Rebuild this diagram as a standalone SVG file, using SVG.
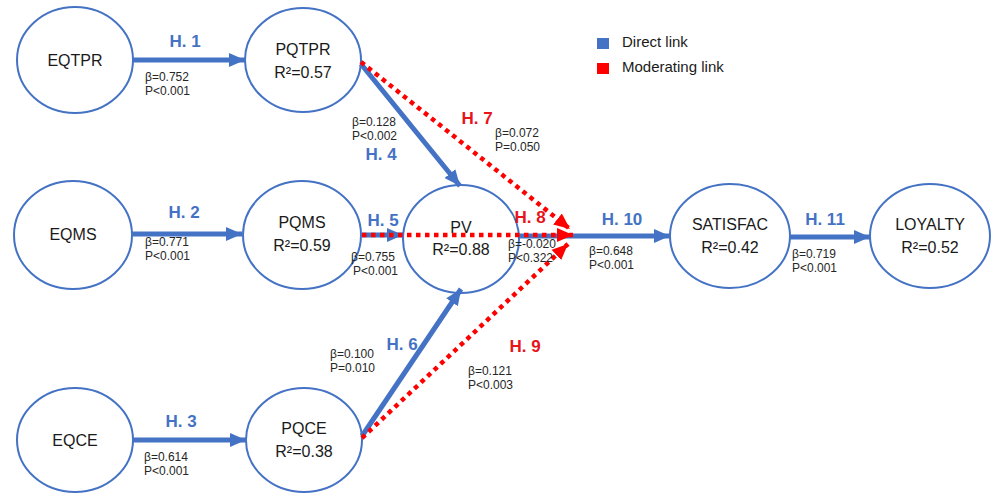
<svg xmlns="http://www.w3.org/2000/svg" width="997" height="493" viewBox="0 0 997 493">
<style>
.node{fill:#fff;stroke:#4472C4;stroke-width:2}
.nt{font-family:"Liberation Sans",Arial,sans-serif;font-size:16px;fill:#1a1a1a;text-anchor:middle}
.st{font-family:"Liberation Sans",Arial,sans-serif;font-size:12px;fill:#262626}
.hb{font-family:"Liberation Sans",Arial,sans-serif;font-size:17px;font-weight:bold;fill:#4472C4;text-anchor:middle}
.hr{font-family:"Liberation Sans",Arial,sans-serif;font-size:17px;font-weight:bold;fill:#E8141B;text-anchor:middle}
.lg{font-family:"Liberation Sans",Arial,sans-serif;font-size:15px;fill:#1a1a1a}
.bl{stroke:#4472C4;stroke-width:5;fill:none;marker-end:url(#ab)}
.rd{stroke:#FF0000;stroke-width:4.5;fill:none;stroke-dasharray:4.5 4.5;marker-end:url(#ar)}
</style>
<defs>
<marker id="ab" markerUnits="userSpaceOnUse" markerWidth="18" markerHeight="16" refX="16" refY="8" orient="auto">
<path d="M0,1 L16,8 L0,15 Z" fill="#4472C4"/>
</marker>
<marker id="ar" markerUnits="userSpaceOnUse" markerWidth="18" markerHeight="16" refX="16" refY="8" orient="auto">
<path d="M0,1 L16,8 L0,15 Z" fill="#FF0000"/>
</marker>
</defs>
<rect width="997" height="493" fill="#fff"/>

<g id="legend">
<rect x="597" y="38" width="12" height="11" fill="#4472C4"/>
<text class="lg" x="622" y="47">Direct link</text>
<rect x="597" y="63" width="12" height="11" fill="#FF0000"/>
<text class="lg" x="622" y="72">Moderating link</text>
</g>

<g id="EQTPR"><ellipse class="node" cx="75" cy="60" rx="58" ry="53"/><text class="nt" x="75" y="66">EQTPR</text></g>
<g id="PQTPR"><ellipse class="node" cx="303" cy="60" rx="58" ry="52"/><text class="nt" x="303" y="55">PQTPR</text><text class="nt" x="303" y="78">R²=0.57</text></g>
<g id="EQMS"><ellipse class="node" cx="73" cy="235" rx="59" ry="54"/><text class="nt" x="73" y="240">EQMS</text></g>
<g id="PQMS"><ellipse class="node" cx="302" cy="235" rx="59" ry="54"/><text class="nt" x="302" y="228">PQMS</text><text class="nt" x="302" y="251">R²=0.59</text></g>
<g id="PV"><ellipse class="node" cx="461" cy="239" rx="58" ry="54"/><text class="nt" x="461" y="233">PV</text><text class="nt" x="461" y="255">R²=0.88</text></g>
<g id="EQCE"><ellipse class="node" cx="75" cy="440" rx="58" ry="52"/><text class="nt" x="75" y="446">EQCE</text></g>
<g id="PQCE"><ellipse class="node" cx="304" cy="440" rx="58" ry="52"/><text class="nt" x="304" y="434">PQCE</text><text class="nt" x="304" y="457">R²=0.38</text></g>
<g id="SATISFAC"><ellipse class="node" cx="730" cy="236" rx="60" ry="52"/><text class="nt" x="730" y="230">SATISFAC</text><text class="nt" x="730" y="253">R²=0.42</text></g>
<g id="LOYALTY"><ellipse class="node" cx="930" cy="236" rx="60" ry="52"/><text class="nt" x="930" y="230">LOYALTY</text><text class="nt" x="930" y="253">R²=0.52</text></g>

<g id="connectors">
<line class="bl" x1="133" y1="60" x2="245" y2="60"/>
<line class="bl" x1="132" y1="234" x2="242" y2="234"/>
<line class="bl" x1="133" y1="440" x2="246" y2="440"/>
<line class="bl" x1="361" y1="64" x2="460" y2="186"/>
<line class="bl" x1="362" y1="235" x2="403" y2="235"/>
<line class="bl" x1="362" y1="436" x2="461" y2="289"/>
<line class="bl" x1="519" y1="236" x2="670" y2="236"/>
<line class="bl" x1="790" y1="237" x2="870" y2="237"/>
<line class="rd" x1="361" y1="62" x2="570" y2="229"/>
<line class="rd" x1="362" y1="235" x2="573" y2="235"/>
<line class="rd" x1="362" y1="438" x2="568" y2="244"/>
</g>

<g id="labels">
<text class="hb" x="185" y="47">H. 1</text>
<text class="st" x="145" y="81">β=0.752</text>
<text class="st" x="145" y="95">P&lt;0.001</text>
<text class="hb" x="184" y="218">H. 2</text>
<text class="st" x="145" y="246">β=0.771</text>
<text class="st" x="145" y="260">P&lt;0.001</text>
<text class="hb" x="181" y="427">H. 3</text>
<text class="st" x="144" y="461">β=0.614</text>
<text class="st" x="144" y="475">P&lt;0.001</text>
<text class="st" x="352" y="126">β=0.128</text>
<text class="st" x="352" y="140">P&lt;0.002</text>
<text class="hb" x="381" y="160">H. 4</text>
<text class="hb" x="383" y="226">H. 5</text>
<text class="st" x="351" y="261">β=0.755</text>
<text class="st" x="353" y="275">P&lt;0.001</text>
<text class="hb" x="402" y="350">H. 6</text>
<text class="st" x="330" y="358">β=0.100</text>
<text class="st" x="330" y="372">P=0.010</text>
<text class="hr" x="477" y="124">H. 7</text>
<text class="st" x="495" y="137">β=0.072</text>
<text class="st" x="495" y="151">P=0.050</text>
<text class="hr" x="530" y="223">H. 8</text>
<text class="st" x="508" y="248">β=-0.020</text>
<text class="st" x="508" y="262">P&lt;0.322</text>
<text class="hr" x="525" y="352">H. 9</text>
<text class="st" x="468" y="375">β=0.121</text>
<text class="st" x="468" y="389">P&lt;0.003</text>
<text class="hb" x="622" y="225">H. 10</text>
<text class="st" x="589" y="255">β=0.648</text>
<text class="st" x="589" y="269">P&lt;0.001</text>
<text class="hb" x="825" y="225">H. 11</text>
<text class="st" x="792" y="258">β=0.719</text>
<text class="st" x="792" y="272">P&lt;0.001</text>
</g>
</svg>
